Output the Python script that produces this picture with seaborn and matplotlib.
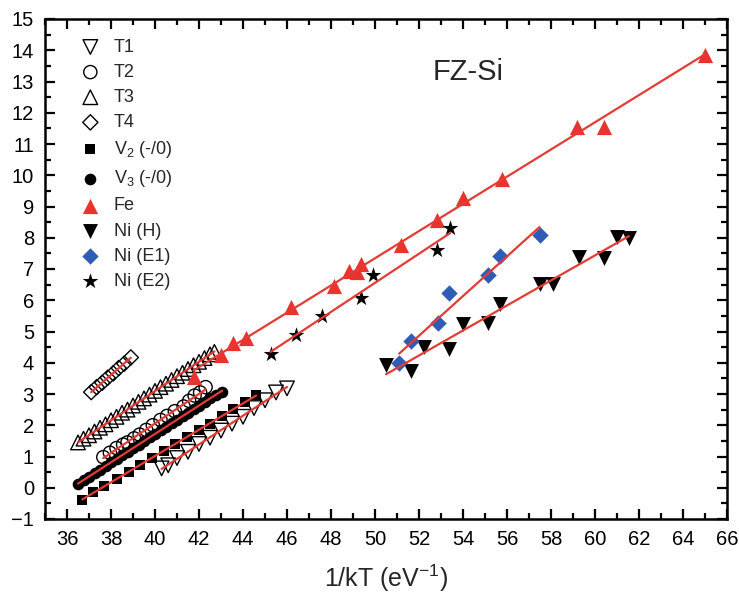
import numpy as np
import pandas as pd
import matplotlib
matplotlib.use("Agg")
import matplotlib.pyplot as plt
import seaborn as sns
from matplotlib.ticker import MultipleLocator

# ---------------- data ----------------
t1_x = [40.3, 40.6, 41.0, 41.5, 42.0, 42.5, 43.0, 43.5, 44.0, 44.5, 45.0, 45.5, 46.0]
t1_y = [0.62, 0.72, 0.95, 1.15, 1.40, 1.60, 1.83, 2.05, 2.27, 2.55, 2.80, 3.05, 3.18]

t2_x = [37.65, 37.95, 38.25, 38.55, 38.75, 39.05, 39.3, 39.6, 39.9, 40.25, 40.55, 40.9, 41.3, 41.55, 41.8, 42.05, 42.3]
t2_y = [0.98, 1.12, 1.27, 1.38, 1.45, 1.58, 1.70, 1.85, 2.00, 2.17, 2.30, 2.45, 2.60, 2.78, 2.95, 3.05, 3.22]

t3_x = [36.5, 36.75, 37.0, 37.25, 37.5, 37.75, 38.0, 38.25, 38.5, 38.75, 39.0, 39.25, 39.5,
        39.75, 40.0, 40.25, 40.5, 40.75, 41.0, 41.25, 41.5, 41.75, 42.0, 42.25, 42.5, 42.7]
t3_y = [1.45, 1.57, 1.68, 1.80, 1.92, 2.03, 2.16, 2.27, 2.40, 2.50, 2.63, 2.75, 2.86,
        2.98, 3.10, 3.22, 3.33, 3.45, 3.57, 3.68, 3.80, 3.92, 4.03, 4.15, 4.27, 4.35]

t4_x = [37.1, 37.35, 37.6, 37.85, 38.1, 38.35, 38.6, 38.9]
t4_y = [3.06, 3.22, 3.36, 3.52, 3.66, 3.83, 3.97, 4.17]

v2_x = [36.7, 37.2, 37.7, 38.25, 38.8, 39.3, 39.85, 40.4, 40.9, 41.45, 42.0, 42.5, 43.05, 43.55, 44.1, 44.6]
v2_y = [-0.38, -0.15, 0.05, 0.28, 0.52, 0.72, 0.95, 1.17, 1.40, 1.63, 1.85, 2.05, 2.30, 2.52, 2.73, 2.97]

v3_x = [36.5, 36.75, 37.0, 37.25, 37.5, 37.75, 38.0, 38.25, 38.5, 38.75, 39.0, 39.25, 39.5, 39.75,
        40.0, 40.25, 40.5, 40.75, 41.0, 41.25, 41.5, 41.75, 42.0, 42.25, 42.5, 42.75, 43.05]
v3_y = [0.12, 0.24, 0.36, 0.48, 0.58, 0.70, 0.82, 0.93, 1.05, 1.15, 1.27, 1.38, 1.50, 1.62,
        1.72, 1.84, 1.95, 2.07, 2.18, 2.30, 2.40, 2.52, 2.63, 2.75, 2.86, 2.97, 3.08]

fe_x = [41.75, 43.0, 43.55, 44.15, 46.2, 48.13, 48.8, 49.2, 49.35, 51.2, 52.83, 54.0, 55.75, 59.2, 60.4, 65.0]
fe_y = [3.55, 4.25, 4.63, 4.80, 5.80, 6.47, 6.95, 6.90, 7.15, 7.77, 8.57, 9.27, 9.88, 11.55, 11.55, 13.85]

nih_x = [50.5, 51.64, 52.24, 53.38, 54.0, 55.15, 55.7, 57.48, 58.07, 59.26, 60.4, 60.99, 61.54]
nih_y = [3.93, 3.74, 4.50, 4.44, 5.24, 5.27, 5.88, 6.52, 6.52, 7.38, 7.35, 8.02, 7.99]

nie1_x = [51.1, 51.64, 52.87, 53.38, 55.15, 55.7, 57.48]
nie1_y = [3.99, 4.70, 5.27, 6.23, 6.81, 7.42, 8.09]

nie2_x = [45.25, 46.4, 47.6, 49.35, 49.9, 52.83, 53.42]
nie2_y = [4.28, 4.89, 5.50, 6.07, 6.81, 7.60, 8.31]

labels = ["T1", "T2", "T3", "T4", "V$_2$ (-/0)", "V$_3$ (-/0)", "Fe", "Ni (H)", "Ni (E1)", "Ni (E2)"]

# ---------------- styling ----------------
sns.set_theme(style="ticks")
plt.rcParams["font.family"] = ["Liberation Sans", "DejaVu Sans"]
plt.rcParams["mathtext.fontset"] = "custom"
plt.rcParams["mathtext.rm"] = "Liberation Sans"
plt.rcParams["mathtext.it"] = "Liberation Sans:italic"

RED_LINE = "#e33b35"
RED = "#e8332f"
BLUE = "#2f5db6"

fig = plt.figure(figsize=(7.39, 6.01), dpi=100)
ax = fig.add_axes([45 / 739, 82 / 601, (727 - 45) / 739, (519 - 19) / 601])

series = [
    (t1_x, t1_y, dict(marker="v", s=110, facecolor="none", edgecolor="black", linewidth=1.0)),
    (t2_x, t2_y, dict(marker="o", s=90, facecolor="none", edgecolor="black", linewidth=1.0)),
    (t3_x, t3_y, dict(marker="^", s=110, facecolor="none", edgecolor="black", linewidth=1.0)),
    (t4_x, t4_y, dict(marker="D", s=60, facecolor="none", edgecolor="black", linewidth=1.0)),
    (v2_x, v2_y, dict(marker="s", s=60, color="black", edgecolor="black", linewidth=0)),
    (v3_x, v3_y, dict(marker="o", s=70, color="black", edgecolor="black", linewidth=0)),
    (fe_x, fe_y, dict(marker="^", s=120, color=RED, edgecolor=RED, linewidth=0)),
    (nih_x, nih_y, dict(marker="v", s=115, color="black", edgecolor="black", linewidth=0)),
    (nie1_x, nie1_y, dict(marker="D", s=70, color=BLUE, edgecolor=BLUE, linewidth=0)),
    (nie2_x, nie2_y, dict(marker="*", s=140, color="black", edgecolor="black", linewidth=0)),
]

for (xs, ys, kw), lab in zip(series, labels):
    sns.scatterplot(x=xs, y=ys, ax=ax, label=lab, zorder=3, **kw)

for xs, ys, _ in series:
    sns.regplot(x=np.array(xs), y=np.array(ys), ax=ax, scatter=False, ci=None, truncate=True,
                line_kws=dict(color=RED_LINE, lw=1.6, zorder=4))

ax.set_xlim(35, 66)
ax.set_ylim(-1, 15)
ax.xaxis.set_major_locator(MultipleLocator(2))
ax.xaxis.set_minor_locator(MultipleLocator(1))
ax.yaxis.set_major_locator(MultipleLocator(1))
ax.yaxis.set_minor_locator(MultipleLocator(0.5))
ax.tick_params(which="both", direction="in", top=True, right=True, width=1.6, colors="black")
ax.tick_params(which="major", length=7, labelsize=14.5, pad=8)
ax.tick_params(which="minor", length=4)
ax.tick_params(axis="x", which="both", labeltop=False)
ax.tick_params(axis="y", which="both", labelright=False)
for sp in ax.spines.values():
    sp.set_visible(True)
    sp.set_linewidth(1.8)
    sp.set_color("black")

ax.set_xlabel("1/kT (eV$^{-1}$)", fontsize=18, labelpad=10)
ax.set_ylabel("")
ax.text(0.62, 0.895, "FZ-Si", transform=ax.transAxes, ha="center", va="center", fontsize=21)

leg = ax.legend(loc="upper left", bbox_to_anchor=(0.04, 0.975), frameon=False, fontsize=13,
                handletextpad=0.7, labelspacing=0.45, borderaxespad=0, handlelength=1.2)

fig.savefig("out.png", dpi=100)
